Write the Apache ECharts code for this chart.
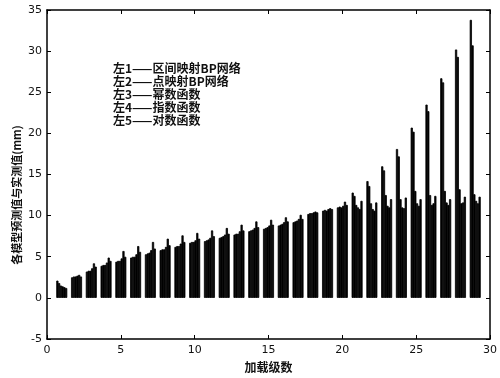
<!DOCTYPE html>
<html>
<head>
<meta charset="utf-8">
<script src="https://cdn.jsdelivr.net/npm/echarts@6/dist/echarts.min.js"></script>
<style>html,body{margin:0;padding:0;background:#fff;}#c{width:500px;height:378px;}</style>
</head>
<body>
<div id="c"></div>
<script>
const levels = [1,2,3,4,5,6,7,8,9,10,11,12,13,14,15,16,17,18,19,20,21,22,23,24,25,26,27,28,29];
const seriesNames = ['左1','左2','左3','左4','左5','实测值'];
const s1 = [2.1,2.5,3.2,3.9,4.4,4.9,5.3,5.8,6.2,6.7,6.9,7.3,7.7,8.1,8.4,8.8,9.2,10.2,10.6,11.0,12.8,14.2,16.0,18.1,20.7,23.5,26.7,30.2,33.8];
const s2 = [1.8,2.6,3.3,4.0,4.5,5.0,5.4,5.9,6.3,6.8,7.0,7.4,7.8,8.2,8.5,8.9,9.3,10.3,10.7,11.1,12.4,13.6,15.5,17.2,20.2,22.7,26.2,29.3,30.7];
const s3 = [1.5,2.6,3.3,4.0,4.5,5.0,5.5,5.9,6.3,6.8,7.1,7.5,7.8,8.3,8.6,9.0,9.4,10.3,10.6,11.0,11.3,11.5,12.5,12.0,13.0,12.5,13.0,13.2,12.6];
const s4 = [1.4,2.7,3.6,4.3,4.8,5.3,5.8,6.2,6.6,7.0,7.3,7.7,8.1,8.5,8.8,9.2,9.6,10.4,10.8,11.2,11.0,10.8,11.2,11.0,11.5,11.3,11.6,11.5,11.8];
const s5 = [1.3,2.8,4.2,4.9,5.7,6.3,6.8,7.2,7.6,7.9,8.2,8.5,8.9,9.3,9.5,9.8,10.1,10.5,10.9,11.7,10.8,10.6,11.0,10.9,11.2,11.5,11.3,11.6,11.5];
const s6 = [1.2,2.6,3.8,4.5,5.0,5.6,6.0,6.4,6.8,7.2,7.5,7.8,8.2,8.6,8.9,9.3,9.6,10.4,10.8,11.3,11.8,11.6,12.0,12.2,12.0,12.4,12.0,12.3,12.3];
const legendLines = ['左1——区间映射BP网络','左2——点映射BP网络','左3——幂数函数','左4——指数函数','左5——对数函数'];
const yName = '各模型预测值与实测值(mm)';
const xName = '加载级数';

const allSeries = [s1,s2,s3,s4,s5,s6];
const font = '"Noto Sans CJK SC", "DejaVu Sans", sans-serif';
const chart = echarts.init(document.getElementById('c'), null, {renderer:'canvas'});
const axisCommon = {
  axisLine:{show:true, onZero:false, lineStyle:{color:'#000', width:1.5}},
  axisTick:{show:true, inside:true, length:4, lineStyle:{color:'#000'}},
  splitLine:{show:false}
};
const option = {
  backgroundColor:'#fff',
  animation:false,
  grid:{left:47, right:3, top:10, bottom:38, containLabel:false},
  xAxis:[
    Object.assign({type:'value', min:0, max:30, interval:5, position:'bottom',
      name:xName, nameLocation:'middle', nameGap:22,
      nameTextStyle:{fontFamily:font, fontSize:12, fontWeight:'bold', color:'#111'},
      axisLabel:{fontFamily:'"DejaVu Sans", sans-serif', fontSize:11, color:'#111', margin:6}}, axisCommon),
    Object.assign({type:'value', min:0, max:30, interval:5, position:'top', axisLabel:{show:false}}, axisCommon)
  ],
  yAxis:[
    Object.assign({type:'value', min:-5, max:35, interval:5, position:'left',
      axisLabel:{fontFamily:'"DejaVu Sans", sans-serif', fontSize:11, color:'#111', margin:5}}, axisCommon),
    Object.assign({type:'value', min:-5, max:35, interval:5, position:'right', axisLabel:{show:false}}, axisCommon)
  ],
  graphic:[
    {type:'text', x:17, y:195, rotation:Math.PI/2,
      style:{text:yName, font:'bold 11px ' + font, fill:'#111', align:'center', verticalAlign:'middle'}}
  ].concat(legendLines.map((t,i)=>({type:'text', x:113, y:68 + i*13.2,
      style:{text:t, font:'bold 12px ' + font, fill:'#111', align:'left', verticalAlign:'middle'}}))),
  series: allSeries.map((d,i)=>({
    type:'bar', name:seriesNames[i], xAxisIndex:0, yAxisIndex:0,
    data: levels.map((x,j)=>[x, d[j]]),
    barWidth:2.2, barGap:'-20%',
    itemStyle:{color:'#000', borderColor:'#000', borderWidth:0.8}
  }))
};
chart.setOption(option);
</script>
</body>
</html>
